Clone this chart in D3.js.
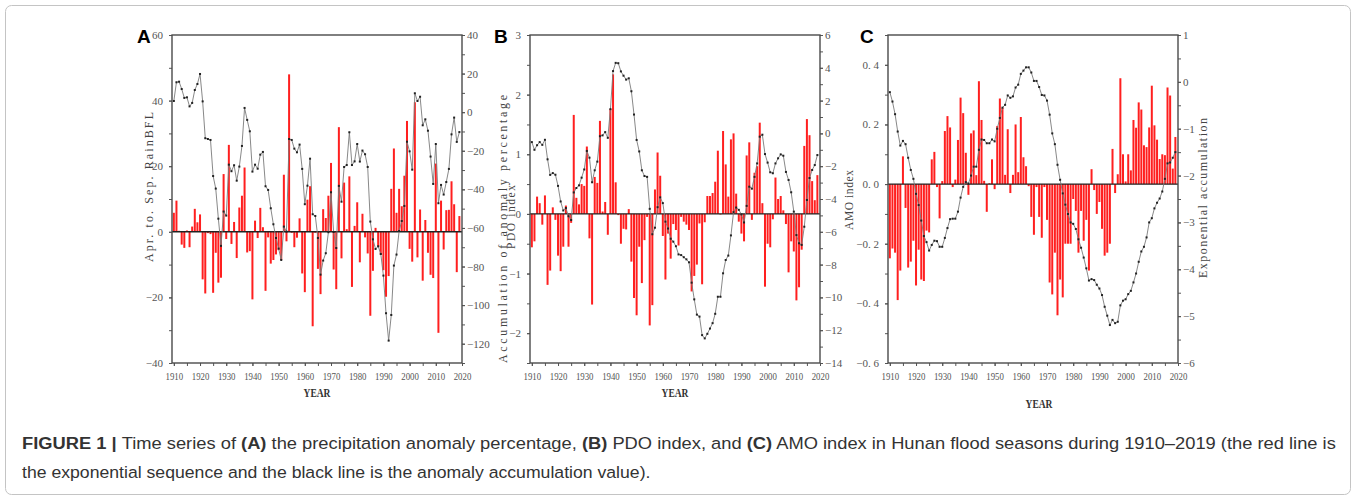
<!DOCTYPE html>
<html>
<head>
<meta charset="utf-8">
<script src="https://cdn.jsdelivr.net/npm/d3@7"></script>
<style>
  body { margin: 0; background: #fff; }
  svg { display: block; }
  .tick text { font-family: "Liberation Serif", "Times New Roman", serif; font-size: 11px; fill: #555; }
  .tick line { stroke: #555; }
</style>
</head>
<body>
<script>
// ---- data (1910-2019) ----
var years = d3.range(1910, 2020);

// A: precipitation anomaly percentage (bars) and its accumulation (line)
var rainBars = [
  5.8, 9.5, 0.3, -3.9, -4.9, 0.4, -4.7, 1.6, 7.0, 2.9,
  5.3, -14.5, -18.8, -0.4, -0.7, -18.6, -6.4, -15.5, -14.0, 17.6,
  -2.2, 26.5, -3.7, 3.0, -8.0, 7.4, 11.0, 19.6, -6.3, -5.9,
  -20.6, 3.4, -1.9, 7.3, 1.4, -18.0, -1.7, -9.7, -8.6, -6.9,
  -5.6, -8.6, 17.4, -2.9, 48.0, -0.3, -4.7, -1.8, 4.1, -12.7,
  -18.4, 9.8, 13.9, -28.8, -0.3, -11.3, -19.0, 6.9, 4.2, 11.0,
  21.0, -11.5, -17.5, 31.9, -8.1, 15.0, 0.8, 16.9, -16.8, 1.8,
  9.0, -9.3, 5.5, -1.7, -6.6, -25.6, -11.9, 1.2, -4.5, -7.0,
  -11.7, -19.8, -13.5, 13.1, 25.4, 5.8, 13.1, 7.8, 17.1, 33.8,
  -5.2, -9.1, 39.5, -7.8, 6.8, -14.9, 3.6, -6.4, -13.1, -14.1,
  20.8, -30.8, 9.5, -5.4, 6.6, 6.7, 15.4, 8.4, -12.3, 4.8
];
var rainLine = [
  5.8, 15.5, 15.8, 12.0, 7.4, 7.7, 3.0, 4.8, 11.5, 14.6,
  19.8, 5.6, -13.5, -13.9, -14.4, -33.1, -39.6, -55.2, -69.3, -51.5,
  -53.6, -27.2, -30.6, -27.5, -35.5, -28.2, -17.5, 2.2, -4.0, -9.9,
  -30.8, -27.2, -29.3, -22.0, -20.6, -38.4, -40.3, -49.8, -58.1, -65.2,
  -70.7, -76.6, -59.3, -61.9, -13.9, -14.4, -18.9, -20.8, -16.8, -29.4,
  -47.7, -38.1, -24.1, -52.9, -53.8, -65.2, -84.2, -76.9, -73.1, -62.2,
  -41.5, -62.1, -70.4, -38.2, -46.4, -28.4, -27.4, -10.4, -27.4, -25.5,
  -16.5, -25.6, -19.9, -21.8, -28.4, -56.7, -65.9, -70.9, -69.5, -73.5,
  -84.7, -104.2, -118.4, -105.1, -79.5, -73.8, -61.6, -56.4, -48.6, -15.3,
  -20.3, -29.8, 9.8, 5.8, 8.0, -6.8, -3.7, -9.6, -23.0, -37.2,
  -16.5, -47.2, -37.7, -42.7, -36.2, -29.4, -11.5, -2.8, -15.4, -10.3
];

// B: PDO index (bars) and accumulation (line)
var pdoBars = [
  -0.56, -0.46, 0.29, 0.18, -0.18, 0.31, -1.19, -0.95, 0.11, -0.10,
  -0.70, -0.96, -0.55, 0.14, -0.55, -0.15, 1.66, 0.27, 0.16, 0.50,
  0.47, 1.13, -0.41, -1.52, 0.62, 0.52, 1.56, 0.04, 0.20, -0.35,
  1.76, 2.34, 0.53, -0.02, -0.50, -0.25, -0.26, 0.08, -0.80, -1.41,
  -1.70, -0.55, -1.16, -0.44, -0.05, -1.87, -1.53, 0.41, 1.03, 0.64,
  -0.37, -1.10, -0.33, -0.75, -0.17, -0.27, -0.53, -0.05, -0.13, -0.18,
  -0.27, -1.30, -1.04, -0.85, -0.16, -1.18, -0.14, 0.30, 0.30, 0.35,
  0.54, 1.06, -0.01, 1.39, 0.83, 0.29, 1.25, 1.35, 0.34, -0.13,
  -0.33, -0.46, 0.98, 1.20, -0.10, 0.69, 0.80, 1.53, 0.18, -1.22,
  -0.50, -0.56, -0.09, 0.61, 0.25, 0.30, 0.06, -0.17, -0.98, -0.46,
  -0.63, -1.45, -1.23, -0.60, 1.14, 1.59, 1.32, 0.55, 0.23, 0.65
];
var pdoLine = [
  -0.53, -1.0, -0.72, -0.53, -0.7, -0.39, -1.58, -2.53, -2.42, -2.52,
  -3.2, -4.15, -4.7, -4.55, -5.05, -5.28, -3.6, -3.33, -3.17, -2.7,
  -2.2, -1.07, -1.48, -2.98, -2.25, -1.72, -0.17, -0.12, 0.08, -0.27,
  1.48, 3.8, 4.3, 4.28, 3.78, 3.52, 3.28, 3.36, 2.57, 1.15,
  -0.4, -1.1, -2.25, -2.6, -2.65, -4.6, -6.15, -5.75, -4.5, -3.9,
  -4.25, -5.38, -5.8, -6.42, -6.6, -6.88, -7.38, -7.42, -7.55, -7.68,
  -7.86, -9.1, -10.12, -11.05, -11.17, -12.3, -12.5, -12.22, -11.9, -11.57,
  -11.0, -9.96, -9.96, -8.53, -7.72, -7.45, -6.22, -4.8, -4.52, -4.66,
  -4.94, -5.43, -4.42, -3.25, -3.37, -2.65, -1.83, -0.2, -0.08, -1.26,
  -1.78, -2.37, -2.43, -1.83, -1.52, -1.28, -1.36, -2.35, -2.84, -3.59,
  -4.77, -6.2, -6.7, -6.8, -5.69, -4.06, -2.72, -2.23, -1.93, -1.32
];

// C: AMO index (bars) and exponential accumulation (line)
var amoBars = [
  -0.249, -0.216, -0.23, -0.389, -0.29, 0.093, -0.08, -0.28, -0.26, -0.19,
  -0.34, -0.22, -0.32, -0.325, -0.156, -0.162, 0.083, 0.108, -0.01, -0.115,
  0.01, 0.178, 0.228, 0.19, -0.01, 0.015, 0.148, 0.29, 0.238, 0.105,
  -0.036, 0.17, 0.18, 0.03, 0.345, 0.215, 0.011, -0.093, 0.003, 0.083,
  -0.017, 0.195, 0.287, 0.256, 0.031, 0.184, -0.03, 0.031, 0.2, 0.04,
  0.225, 0.09, 0.06, -0.007, -0.11, -0.17, -0.01, -0.11, -0.18, -0.01,
  -0.12, -0.33, -0.37, -0.23, -0.44, -0.32, -0.38, -0.2, -0.2, -0.2,
  -0.05, -0.09, -0.23, -0.09, -0.19, -0.12, -0.29, 0.05, -0.02, -0.1,
  -0.06, -0.15, -0.24, -0.23, -0.2, 0.118, -0.03, 0.033, 0.355, 0.1,
  0.009, 0.1, 0.046, 0.215, 0.189, 0.274, 0.25, 0.13, 0.124, 0.19,
  0.33, 0.197, 0.149, 0.084, 0.1, 0.097, 0.324, 0.297, 0.052, 0.158
];
var amoLine = [
  -0.22, -0.42, -0.69, -1.06, -1.36, -1.26, -1.33, -1.62, -1.88, -2.07,
  -2.39, -2.63, -2.96, -3.29, -3.42, -3.6, -3.48, -3.39, -3.4, -3.52,
  -3.52, -3.33, -3.12, -2.93, -2.92, -2.92, -2.77, -2.47, -2.24, -2.14,
  -2.17, -2.0, -1.81, -1.81, -1.45, -1.23, -1.24, -1.31, -1.31, -1.23,
  -1.27, -1.0, -0.77, -0.55, -0.49, -0.29, -0.34, -0.31, -0.12, -0.06,
  0.17, 0.24, 0.31, 0.31, 0.2, 0.02, 0.02, -0.11, -0.28, -0.29,
  -0.4, -0.7, -1.1, -1.33, -1.77, -2.09, -2.38, -2.62, -2.82, -3.0,
  -3.03, -3.14, -3.36, -3.54, -3.75, -3.98, -4.24, -4.21, -4.23, -4.33,
  -4.41, -4.55, -4.8, -4.99, -5.19, -5.08, -5.15, -5.12, -4.77, -4.67,
  -4.64, -4.53, -4.46, -4.28, -4.09, -3.84, -3.62, -3.52, -3.32, -3.0,
  -2.91, -2.7, -2.58, -2.49, -2.34, -2.07, -1.74, -1.72, -1.62, -1.5
];

// tick values
var yearTicks = d3.range(1910, 2021, 10);
var yearMinor = d3.range(1910, 2021, 5);
var rainTicks = [-40, -20, 0, 20, 40, 60];
var rainAccTicks = [-120, -100, -80, -60, -40, -20, 0, 20, 40];
var pdoTicks = [-2, -1, 0, 1, 2, 3];
var pdoAccTicks = [-14, -12, -10, -8, -6, -4, -2, 0, 2, 4, 6];
var amoTicks = [-0.6, -0.4, -0.2, 0, 0.2, 0.4];
var amoAccTicks = [-6, -5, -4, -3, -2, -1, 0, 1];

var W = 1357, H = 500;
var plotTop = 35, plotBottom = 363, pw = 290;

var svg = d3.select("body").append("svg")
    .attr("width", W)
    .attr("height", H);

svg.append("rect")
    .attr("x", 5.5).attr("y", 5.5)
    .attr("width", 1345).attr("height", 489)
    .attr("rx", 6)
    .attr("fill", "none")
    .attr("stroke", "#c4c4c4");

var serif = '"Liberation Serif", "Times New Roman", serif';
var sans = '"Liberation Sans", Arial, sans-serif';

var panels = [
  {
    letter: "A", left: 172, bars: rainBars, line: rainLine,
    yL: [-40, 60], yR: [-130, 40],
    ticksL: rainTicks, minorL: d3.range(-40, 61, 10),
    ticksR: rainAccTicks, minorR: d3.range(-130, 41, 10),
    fmtL: d3.format("d"), fmtR: d3.format("d"),
    titles: [
      {text: "Apr. to. Sep. RainBFL", x: 153, y: 187, len: 150, size: 12}
    ],
    yearX: 317, yearY: 397, letterX: 137
  },
  {
    letter: "B", left: 530, bars: pdoBars, line: pdoLine,
    yL: [-2.5, 3], yR: [-14, 6],
    ticksL: pdoTicks, minorL: d3.range(-2.5, 3.01, 0.5),
    ticksR: pdoAccTicks, minorR: d3.range(-14, 6.01, 1),
    fmtL: d3.format("d"), fmtR: d3.format("d"),
    titles: [
      {text: "Accumulation of anomaly percentage", x: 507, y: 229, len: 268, size: 12},
      {text: "PDO index", x: 515, y: 217, len: 64, size: 11.5}
    ],
    yearX: 675, yearY: 397, letterX: 494
  },
  {
    letter: "C", left: 888, bars: amoBars, line: amoLine,
    yL: [-0.6, 0.5], yR: [-6, 1],
    ticksL: amoTicks, minorL: d3.range(-0.6, 0.501, 0.1),
    ticksR: amoAccTicks, minorR: d3.range(-6, 1.01, 0.5),
    fmtL: function(d) { return d3.format(".1f")(d).replace(".", ". "); },
    fmtR: d3.format("d"),
    titles: [
      {text: "AMO index", x: 853, y: 200, len: 60, size: 11.5},
      {text: "Exponential accumulation", x: 1207, y: 198, len: 160, size: 12}
    ],
    yearX: 1039, yearY: 408, letterX: 860
  }
];

panels.forEach(function(p) {
  var x = d3.scaleLinear().domain([1909.3, 2020]).range([p.left, p.left + pw]);
  var yl = d3.scaleLinear().domain(p.yL).range([plotBottom, plotTop]);
  var yr = d3.scaleLinear().domain(p.yR).range([plotBottom, plotTop]);
  var g = svg.append("g");

  // bars
  g.selectAll(".bar")
      .data(p.bars)
    .enter().append("rect")
      .attr("class", "bar")
      .attr("x", function(d, i) { return x(years[i]) - 1; })
      .attr("width", 2)
      .attr("y", function(d) { return yl(Math.max(0, d)); })
      .attr("height", function(d) { return Math.abs(yl(d) - yl(0)); })
      .attr("fill", "#ff1f1f");

  // zero line
  g.append("line")
      .attr("x1", p.left).attr("x2", p.left + pw)
      .attr("y1", yl(0)).attr("y2", yl(0))
      .attr("stroke", "#222")
      .attr("stroke-width", 1.4);

  // accumulation line
  var line = d3.line()
      .x(function(d, i) { return x(years[i]); })
      .y(function(d) { return yr(d); });

  g.append("path")
      .datum(p.line)
      .attr("d", line)
      .attr("fill", "none")
      .attr("stroke", "#7a7a7a")
      .attr("stroke-width", 0.9);

  g.selectAll(".pt")
      .data(p.line)
    .enter().append("rect")
      .attr("class", "pt")
      .attr("x", function(d, i) { return x(years[i]) - 1; })
      .attr("y", function(d) { return yr(d) - 1; })
      .attr("width", 2)
      .attr("height", 2)
      .attr("fill", "#222");

  // axes
  g.append("g")
      .attr("transform", "translate(" + p.left + ",0)")
      .call(d3.axisLeft(yl).tickValues(p.ticksL).tickSize(3).tickPadding(6).tickFormat(p.fmtL));
  g.append("g")
      .attr("transform", "translate(" + p.left + ",0)")
      .call(d3.axisLeft(yl).tickValues(p.minorL).tickSize(3).tickFormat(""));

  g.append("g")
      .attr("transform", "translate(" + (p.left + pw) + ",0)")
      .call(d3.axisRight(yr).tickValues(p.ticksR).tickSize(3).tickPadding(2).tickFormat(p.fmtR));
  g.append("g")
      .attr("transform", "translate(" + (p.left + pw) + ",0)")
      .call(d3.axisRight(yr).tickValues(p.minorR).tickSize(3).tickFormat(""));

  var gx = g.append("g")
      .attr("transform", "translate(0," + plotBottom + ")")
      .call(d3.axisBottom(x).tickValues(yearTicks).tickSize(3).tickPadding(6).tickFormat(d3.format("d")));
  gx.selectAll("text").attr("transform", "scale(0.8,1)");
  g.append("g")
      .attr("transform", "translate(0," + plotBottom + ")")
      .call(d3.axisBottom(x).tickValues(yearMinor).tickSize(3).tickFormat(""));

  g.selectAll(".domain").remove();

  // frame
  g.append("rect")
      .attr("x", p.left).attr("y", plotTop)
      .attr("width", pw).attr("height", plotBottom - plotTop)
      .attr("fill", "none")
      .attr("stroke", "#4a4a4a")
      .attr("stroke-width", 1.4);

  // axis titles
  p.titles.forEach(function(t) {
    g.append("text")
        .attr("transform", "translate(" + t.x + "," + t.y + ") rotate(-90)")
        .attr("text-anchor", "middle")
        .attr("textLength", t.len)
        .attr("lengthAdjust", "spacing")
        .style("font-family", serif)
        .style("font-size", t.size + "px")
        .style("fill", "#444")
        .text(t.text);
  });

  g.append("text")
      .attr("x", p.yearX).attr("y", p.yearY)
      .attr("text-anchor", "middle")
      .attr("textLength", 27)
      .attr("lengthAdjust", "spacingAndGlyphs")
      .style("font-family", serif)
      .style("font-weight", "bold")
      .style("font-size", "13.5px")
      .style("fill", "#333")
      .text("YEAR");

  g.append("text")
      .attr("x", p.letterX).attr("y", 43)
      .style("font-family", sans)
      .style("font-weight", "bold")
      .style("font-size", "19px")
      .style("fill", "#000")
      .text(p.letter);
});

// caption
var captionLines = [
  [["FIGURE 1 | ", true], ["Time series of ", false], ["(A)", true],
   [" the precipitation anomaly percentage, ", false], ["(B)", true],
   [" PDO index, and ", false], ["(C)", true],
   [" AMO index in Hunan flood seasons during 1910\u20132019 (the red line is", false]],
  [["the exponential sequence and the black line is the anomaly accumulation value).", false]]
];
var captionWidths = [1315, 629];
var captionY = [449, 478];

captionLines.forEach(function(parts, li) {
  var t = svg.append("text")
      .attr("x", 0).attr("y", 0)
      .style("font-family", sans)
      .style("font-size", "17px")
      .style("fill", "#333");
  parts.forEach(function(pt) {
    t.append("tspan")
        .style("font-weight", pt[1] ? "bold" : "normal")
        .text(pt[0]);
  });
  var w = t.node().getComputedTextLength();
  t.attr("transform", "translate(22," + captionY[li] + ") scale(" + (captionWidths[li] / w) + ",1)");
});
</script>
</body>
</html>
